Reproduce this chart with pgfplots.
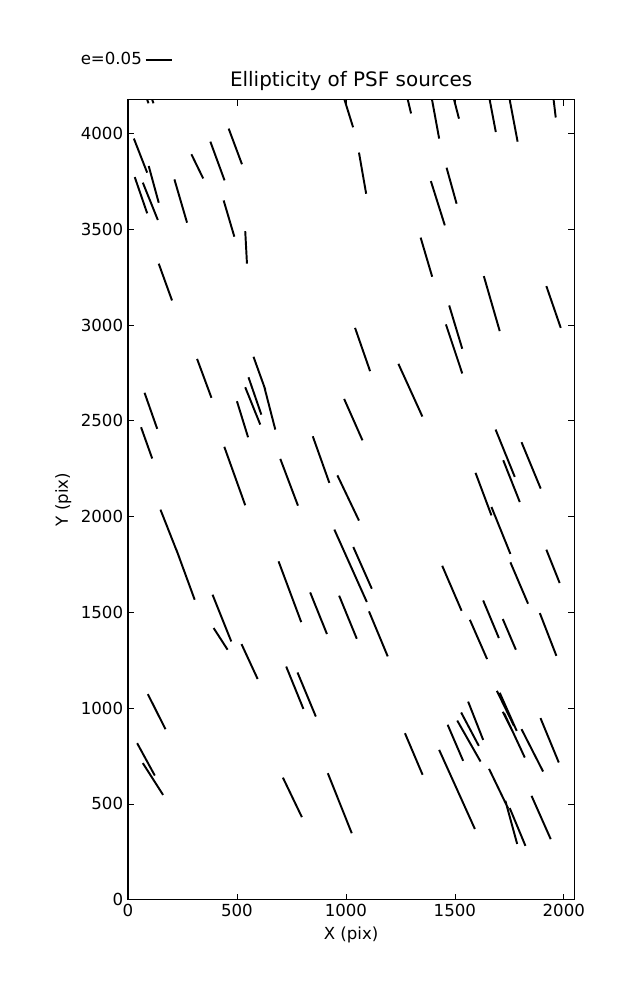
\documentclass[border=0pt]{standalone}
\usepackage{fontspec}
\setmainfont{DejaVu Sans}
\usepackage{pgfplots}
\pgfplotsset{compat=1.18}
\begin{document}
\begin{tikzpicture}
\path[use as bounding box] (-92.16bp,-72.22bp) rectangle (366.48bp,647.78bp);
\begin{axis}[
  at={(0,0)}, anchor=south west,
  scale only axis, width=321.3bp, height=576bp,
  xmin=0, xmax=2048, ymin=0, ymax=4176,
  xtick={0,500,1000,1500,2000}, ytick={0,500,...,4000},
  tick align=inside,
  axis line style={line width=0.9bp},
  major tick style={line width=0.5bp, black},
  major tick length=4.3bp,
  tick label style={font=\fontsize{12}{14}\selectfont},
  label style={font=\fontsize{12}{14}\selectfont},
  /pgf/number format/assume math mode=true,
  /pgf/number format/1000 sep={},
  xlabel={X (pix)}, ylabel={Y (pix)},
  title={Ellipticity of PSF sources},
  title style={font=\fontsize{14.4}{16}\selectfont, yshift=-3bp},
  unbounded coords=jump,
  legend plot pos=right,
  legend style={draw=none, fill=none, at={(-0.122,1.05)}, anchor=west,
    font=\fontsize{12}{14}\selectfont},
  legend image code/.code={\path (0bp,0bp) -- (19bp,0bp);\draw[line width=1.4bp] (3.2bp,0bp) -- (19bp,0bp);},
]
\addplot[black, line width=1.4bp] coordinates {
(62,4262) (94,4157) (nan,nan)
(85,4262) (117,4157) (nan,nan)
(973,4251) (1033,4032) (nan,nan)
(1262,4283) (1299,4104) (nan,nan)
(1378,4283) (1428,3973) (nan,nan)
(1472,4283) (1519,4077) (nan,nan)
(1642,4283) (1688,4007) (nan,nan)
(1734,4283) (1788,3957) (nan,nan)
(1942,4283) (1963,4083) (nan,nan)
(27,3973) (88,3795) (nan,nan)
(95,3830) (141,3638) (nan,nan)
(31,3772) (88,3583) (nan,nan)
(68,3743) (137,3548) (nan,nan)
(213,3760) (271,3534) (nan,nan)
(291,3891) (345,3765) (nan,nan)
(378,3957) (443,3755) (nan,nan)
(462,4025) (523,3839) (nan,nan)
(439,3650) (488,3461) (nan,nan)
(538,3490) (546,3320) (nan,nan)
(141,3320) (202,3128) (nan,nan)
(1060,3900) (1093,3685) (nan,nan)
(1462,3821) (1508,3633) (nan,nan)
(1390,3751) (1454,3520) (nan,nan)
(1343,3456) (1396,3252) (nan,nan)
(1633,3255) (1706,2968) (nan,nan)
(1920,3203) (1986,2985) (nan,nan)
(1042,2985) (1111,2759) (nan,nan)
(1474,3102) (1534,2876) (nan,nan)
(1459,3003) (1534,2747) (nan,nan)
(1241,2797) (1351,2522) (nan,nan)
(317,2823) (383,2620) (nan,nan)
(76,2646) (134,2458) (nan,nan)
(60,2466) (111,2303) (nan,nan)
(576,2834) (630,2663) (nan,nan)
(625,2679) (676,2454) (nan,nan)
(553,2727) (612,2532) (nan,nan)
(538,2675) (607,2480) (nan,nan)
(500,2602) (551,2414) (nan,nan)
(992,2614) (1076,2398) (nan,nan)
(442,2364) (538,2059) (nan,nan)
(699,2301) (780,2057) (nan,nan)
(848,2419) (924,2176) (nan,nan)
(961,2215) (1060,1979) (nan,nan)
(1687,2454) (1775,2207) (nan,nan)
(1806,2388) (1894,2146) (nan,nan)
(1595,2228) (1668,2006) (nan,nan)
(1722,2294) (1798,2076) (nan,nan)
(149,2036) (236,1785) (nan,nan)
(222,1827) (306,1566) (nan,nan)
(388,1592) (474,1348) (nan,nan)
(393,1418) (457,1305) (nan,nan)
(521,1334) (595,1152) (nan,nan)
(691,1766) (795,1449) (nan,nan)
(836,1604) (913,1387) (nan,nan)
(947,1932) (1096,1554) (nan,nan)
(1034,1841) (1119,1623) (nan,nan)
(969,1587) (1050,1362) (nan,nan)
(1106,1505) (1192,1270) (nan,nan)
(1668,2050) (1755,1805) (nan,nan)
(1920,1827) (1981,1653) (nan,nan)
(1442,1743) (1531,1508) (nan,nan)
(1755,1761) (1836,1545) (nan,nan)
(1630,1562) (1702,1366) (nan,nan)
(1720,1465) (1780,1305) (nan,nan)
(1890,1496) (1966,1273) (nan,nan)
(1569,1461) (1648,1256) (nan,nan)
(726,1217) (805,996) (nan,nan)
(778,1186) (862,956) (nan,nan)
(91,1073) (172,890) (nan,nan)
(42,817) (123,648) (nan,nan)
(68,713) (161,547) (nan,nan)
(711,637) (798,431) (nan,nan)
(917,660) (1027,347) (nan,nan)
(1271,869) (1352,652) (nan,nan)
(1428,782) (1592,369) (nan,nan)
(1467,913) (1538,725) (nan,nan)
(1511,935) (1618,721) (nan,nan)
(1529,977) (1610,803) (nan,nan)
(1561,1034) (1630,834) (nan,nan)
(1693,1090) (1771,908) (nan,nan)
(1706,1080) (1784,881) (nan,nan)
(1720,981) (1761,887) (nan,nan)
(1726,974) (1821,742) (nan,nan)
(1806,890) (1905,669) (nan,nan)
(1893,948) (1977,716) (nan,nan)
(1657,683) (1744,478) (nan,nan)
(1732,516) (1786,291) (nan,nan)
(1752,478) (1824,281) (nan,nan)
(1852,542) (1940,316)
};
\addlegendentry{e=0.05}
\end{axis}
\end{tikzpicture}
\end{document}
